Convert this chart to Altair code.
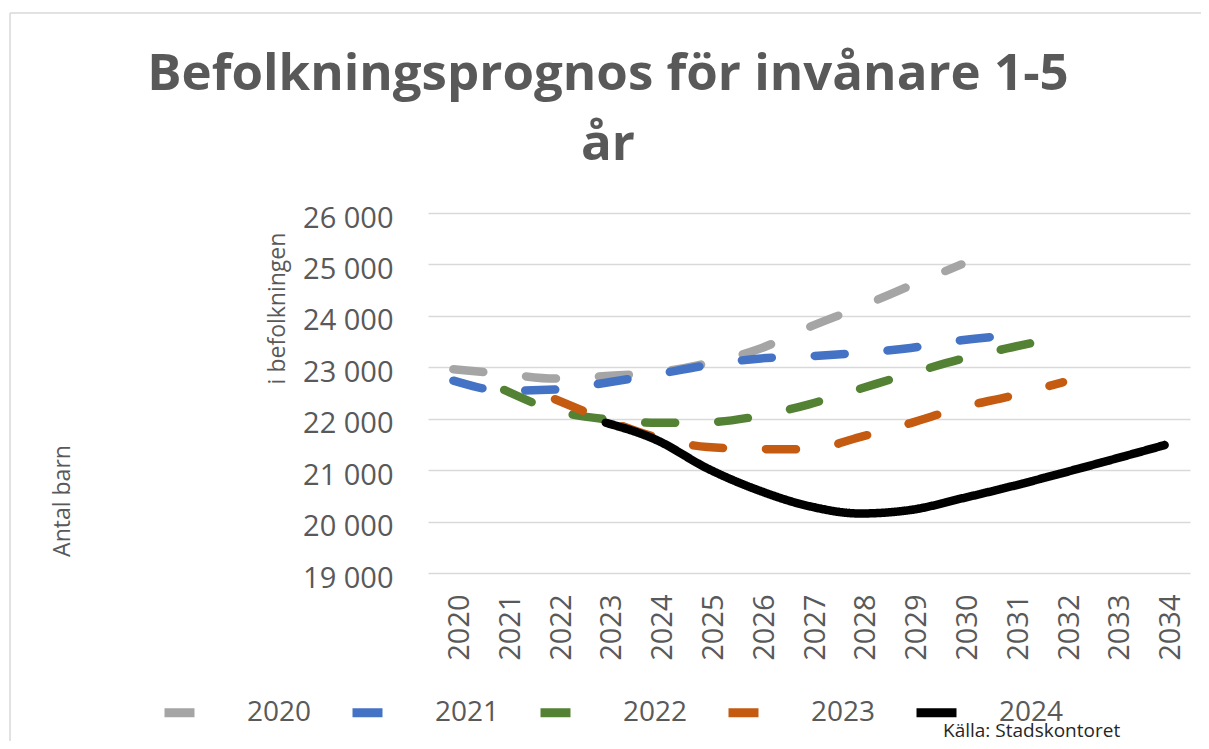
import altair as alt
import pandas as pd

# ---- data ----
years = [str(y) for y in range(2020, 2035)]
series_names = ["2020", "2021", "2022", "2023", "2024"]
series_start = [2020, 2020, 2021, 2022, 2023]
prognos_2020 = [22960, 22870, 22780, 22830, 22900, 23080, 23350, 23780, 24170, 24590, 25000]
prognos_2021 = [22740, 22545, 22567, 22700, 22864, 23040, 23168, 23215, 23280, 23376, 23526, 23625]
prognos_2022 = [22560, 22160, 21990, 21920, 21930, 22050, 22280, 22580, 22880, 23160, 23390, 23600]
prognos_2023 = [22380, 21980, 21637, 21450, 21410, 21405, 21643, 21915, 22220, 22447, 22710]
prognos_2024 = [21922, 21585, 21033, 20610, 20300, 20157, 20225, 20449, 20688, 20947, 21214, 21487]
y_ticks = [19000, 20000, 21000, 22000, 23000, 24000, 25000, 26000]
colors = ["#A5A5A5", "#4472C4", "#548235", "#C55A11", "#000000"]
dashes = [[30, 43], [30, 43], [30, 43], [30, 43], [1, 0]]

all_series = [prognos_2020, prognos_2021, prognos_2022, prognos_2023, prognos_2024]
rows = []
for name, start, vals in zip(series_names, series_start, all_series):
    for i, v in enumerate(vals):
        rows.append({"Prognos": name, "Linjetyp": name, "År": str(start + i), "Antal": v})
df = pd.DataFrame(rows)

FONT = "Open Sans"
GREY_TXT = "#595959"

legend = alt.Legend(
    orient="none", legendX=-268, legendY=475, direction="horizontal", columns=5,
    title=None, symbolType="stroke", symbolSize=1600, symbolStrokeWidth=9,
    labelFontSize=28, labelFont=FONT, labelColor=GREY_TXT, labelOffset=38,
    columnPadding=22,
)

lines = alt.Chart(df).mark_line(
    strokeWidth=8.5, strokeCap="round", strokeJoin="round", interpolate="monotone"
).encode(
    x=alt.X("År:O", scale=alt.Scale(type="point", padding=0.5, domain=years),
            axis=alt.Axis(labelAngle=270, labelPadding=21, labelOffset=6, domain=False,
                          ticks=False, grid=False, title=None, labelFontSize=29,
                          labelFont=FONT, labelColor=GREY_TXT)),
    y=alt.Y("Antal:Q", scale=alt.Scale(domain=[19000, 26000], nice=False, zero=False),
            axis=alt.Axis(values=y_ticks,
                          labelExpr="replace(format(datum.value, ','), ',', ' ')",
                          grid=True, gridColor="#D9D9D9", gridWidth=1.3, domain=False,
                          ticks=False, labelPadding=35, labelOffset=5, labelFontSize=29,
                          labelFont=FONT, labelColor=GREY_TXT,
                          title="i befolkningen", titleX=-151, titleY=95, titleAngle=270,
                          titleAlign="center", titleBaseline="middle", titleFontSize=23,
                          titleFontWeight="normal", titleFont=FONT, titleColor=GREY_TXT)),
    color=alt.Color("Prognos:N", scale=alt.Scale(domain=series_names, range=colors),
                    legend=legend),
    strokeDash=alt.StrokeDash("Linjetyp:N", scale=alt.Scale(domain=series_names, range=dashes),
                              legend=None),
    detail="Prognos:N",
    order=alt.Order("År:O"),
)

antal = alt.Chart(pd.DataFrame({"t": ["Antal barn"]})).mark_text(
    angle=270, fontSize=23, font=FONT, color=GREY_TXT, align="center", baseline="middle"
).encode(text="t:N", x=alt.value(-365), y=alt.value(288))

kalla = alt.Chart(pd.DataFrame({"t": ["Källa: Stadskontoret"]})).mark_text(
    fontSize=19, font=FONT, color="#262626", align="left", baseline="alphabetic"
).encode(text="t:N", x=alt.value(515), y=alt.value(524))

frame_top = alt.Chart(pd.DataFrame({"a": [0]})).mark_rule(color="#D9D9D9", strokeWidth=1.5).encode(
    x=alt.value(-418), x2=alt.value(800), y=alt.value(-200))
frame_left = alt.Chart(pd.DataFrame({"a": [0]})).mark_rule(color="#D9D9D9", strokeWidth=1.5).encode(
    x=alt.value(-418), y=alt.value(-200), y2=alt.value(540))

chart = alt.layer(frame_top, frame_left, lines, antal, kalla).properties(
    width=762, height=360,
    autosize=alt.AutoSizeParams(type="none"),
    padding={"left": 420, "top": 205, "right": 11, "bottom": 168},
    title=alt.Title(text=["Befolkningsprognos för invånare 1-5", "år"], fontSize=51,
                    fontWeight="bold", color=GREY_TXT, font=FONT, anchor="middle",
                    dx=-201, dy=199, lineHeight=70, offset=40),
).configure_view(stroke=None)

chart.save("out.html", embed_options={"renderer": "svg", "actions": False})
